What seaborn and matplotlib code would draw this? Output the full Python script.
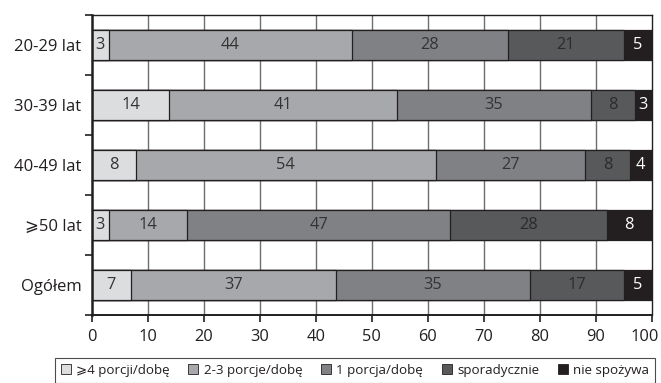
import numpy as np
import pandas as pd
import matplotlib
matplotlib.use("Agg")
import matplotlib.pyplot as plt
import matplotlib.transforms as mtransforms
import seaborn as sns
from matplotlib.patches import Patch

categories = ["20-29 lat", "30-39 lat", "40-49 lat", "⩾50 lat", "Ogółem"]
series_names = ["⩾4 porcji/dobę", "2-3 porcje/dobę", "1 porcja/dobę", "sporadycznie", "nie spożywa"]
v_4plus = [3, 14, 8, 3, 7]
v_2_3 = [44, 41, 54, 14, 37]
v_1 = [28, 35, 27, 47, 35]
v_spor = [21, 8, 8, 28, 17]
v_none = [5, 3, 4, 8, 5]
colors = ["#dcdddf", "#a7a8ab", "#808184", "#58595b", "#231f20"]
text_colors = ["#333333", "#333333", "#333333", "#2b2b2b", "#ffffff"]
x_ticks = [0, 10, 20, 30, 40, 50, 60, 70, 80, 90, 100]

sns.set_theme(style="white")
plt.rcParams["font.family"] = ["Open Sans", "DejaVu Sans"]

raw = np.array([v_4plus, v_2_3, v_1, v_spor, v_none], dtype=float)  # series x category
shares = raw / raw.sum(axis=0) * 100  # each row scaled to 100%
cum = np.cumsum(shares, axis=0)

fig = plt.figure(figsize=(6.61, 3.83), dpi=100)
ax = fig.add_axes([0.139, 0.178, 0.847, 0.783])

for xv in x_ticks[1:-1]:
    ax.axvline(xv, color="#6d6e70", lw=1.0, zorder=0)

# stacked bars: draw cumulative totals from the longest down
for i in range(len(series_names) - 1, -1, -1):
    df = pd.DataFrame({"cat": categories, "val": cum[i]})
    sns.barplot(data=df, x="val", y="cat", orient="h", color=colors[i],
                saturation=1, width=0.5, edgecolor="#231f20", linewidth=0.9,
                ax=ax, zorder=2)

for i in range(len(series_names)):
    for j, cat in enumerate(categories):
        left = cum[i, j] - shares[i, j]
        ax.text(left + shares[i, j] / 2, j, f"{int(raw[i, j])}",
                ha="center", va="center", fontsize=11.8,
                color=text_colors[i], zorder=5)

ax.set_xlim(0, 100)
ax.set_ylim(len(categories) - 0.5, -0.5)
ax.set_xticks(x_ticks)
ax.set_xticklabels([str(t) for t in x_ticks], fontsize=11.8, color="#231f20")
ax.set_yticks(range(len(categories)))
ax.set_yticklabels(categories, fontsize=12, color="#231f20")
ax.set_yticks(np.arange(-0.5, len(categories), 1.0), minor=True)
ax.tick_params(axis="y", which="major", length=0, pad=7.5)
ax.tick_params(axis="y", which="minor", left=True, length=5, width=1.2, color="#231f20")
ax.tick_params(axis="x", which="major", bottom=True, length=5, width=1.2,
               color="#231f20", pad=5)
ax.set_xlabel("")
ax.set_ylabel("")
for side, sp in ax.spines.items():
    sp.set_visible(True)
    sp.set_color("#231f20")
    sp.set_linewidth(1.0)
ax.spines["left"].set_linewidth(1.8)
ax.spines["bottom"].set_linewidth(1.4)

# keep the last tick label inside the canvas
last = ax.get_xticklabels()[-1]
last.set_transform(last.get_transform() +
                   mtransforms.ScaledTranslation(-7 / 100, 0, fig.dpi_scale_trans))

handles = [Patch(facecolor=c, edgecolor="#231f20", linewidth=0.6) for c in colors]
leg = fig.legend(handles, series_names, loc="upper center",
                 bbox_to_anchor=(0.537, 1 - 358 / 383),
                 ncol=5, fontsize=9.6, frameon=True, fancybox=False,
                 handlelength=0.75, handleheight=0.75, handletextpad=0.4,
                 columnspacing=1.4, borderpad=0.45, borderaxespad=0)
leg.get_frame().set_edgecolor("#231f20")
leg.get_frame().set_linewidth(0.8)
for t in leg.get_texts():
    t.set_color("#231f20")

fig.savefig("out.png", dpi=100)
